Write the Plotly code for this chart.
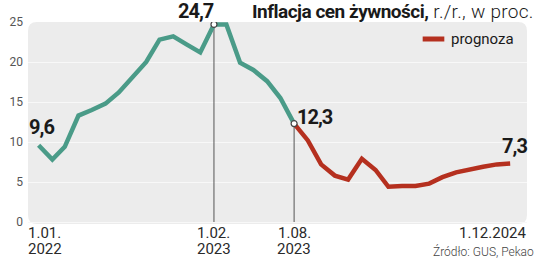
import plotly.graph_objects as go

# ---- data ----
hist_months = ["2022-01-01", "2022-02-01", "2022-03-01", "2022-04-01", "2022-05-01", "2022-06-01",
               "2022-07-01", "2022-08-01", "2022-09-01", "2022-10-01", "2022-11-01", "2022-12-01",
               "2023-01-01", "2023-02-01", "2023-03-01", "2023-04-01", "2023-05-01", "2023-06-01",
               "2023-07-01", "2023-08-01"]
hist_values = [9.6, 7.8, 9.4, 13.3, 14.0, 14.8, 16.2, 18.2, 20.0, 22.8, 23.2, 22.2,
               21.2, 24.7, 24.7, 19.9, 19.0, 17.6, 15.5, 12.3]

fc_months = ["2023-08-01", "2023-09-01", "2023-10-01", "2023-11-01", "2023-12-01",
             "2024-01-01", "2024-02-01", "2024-03-01", "2024-04-01", "2024-05-01", "2024-06-01",
             "2024-07-01", "2024-08-01", "2024-09-01", "2024-10-01", "2024-11-01", "2024-12-01"]
fc_values = [12.3, 10.2, 7.2, 5.8, 5.3, 7.9, 6.5, 4.4, 4.5, 4.5, 4.8, 5.6, 6.2, 6.6, 6.9, 7.2, 7.3]

y_ticks = [0, 5, 10, 15, 20, 25]
callouts = [("2023-02-01", 24.7), ("2023-08-01", 12.3)]
x_labels = [("1.01.", "2022", "2022-01-01"), ("1.02.", "2023", "2023-02-01"),
            ("1.08.", "2023", "2023-08-01"), ("1.12.2024", "", "2024-12-01")]

GREEN = "#4a9b88"
RED = "#b5301f"
FONT = "Roboto"

fig = go.Figure()

for d, v in callouts:
    fig.add_trace(go.Scatter(x=[d, d], y=[0, v], mode="lines",
                             line=dict(color="#555555", width=1), hoverinfo="skip", showlegend=False))

fig.add_trace(go.Scatter(x=hist_months, y=hist_values, mode="lines",
                         line=dict(color=GREEN, width=4.5), showlegend=False))
fig.add_trace(go.Scatter(x=fc_months, y=fc_values, mode="lines",
                         line=dict(color=RED, width=4.5), showlegend=False))
fig.add_trace(go.Scatter(x=[c[0] for c in callouts], y=[c[1] for c in callouts], mode="markers",
                         marker=dict(color="white", size=6, line=dict(color="#444444", width=1.2)),
                         showlegend=False))

# rounded background
rx, ry = 9 / 507, 9 / 202
path = (f"M {rx},0 L {1-rx},0 Q 1,0 1,{ry} L 1,{1-ry} Q 1,1 {1-rx},1 "
        f"L {rx},1 Q 0,1 0,{1-ry} L 0,{ry} Q 0,0 {rx},0 Z")
fig.add_shape(type="path", path=path, xref="paper", yref="paper",
              fillcolor="#ececec", line=dict(width=0), layer="below")


def val(t):
    return f"<span style='letter-spacing:-1px'><b>{t}</b></span>"


val_font = dict(family=FONT, size=20, color="#1a1a1a")
fig.add_annotation(x=hist_months[0], y=hist_values[0], text=val("9,6"), showarrow=False,
                   xanchor="left", yanchor="middle", xshift=-12, yshift=18, font=val_font)
fig.add_annotation(x="2023-02-01", y=24.7, text=val("24,7"), showarrow=False,
                   xanchor="center", yanchor="middle", xshift=-18, yshift=13, font=val_font)
fig.add_annotation(x="2023-08-01", y=12.3, text=val("12,3"), showarrow=False,
                   xanchor="left", yanchor="middle", xshift=1, yshift=7, font=val_font)
fig.add_annotation(x=fc_months[-1], y=fc_values[-1], text=val("7,3"), showarrow=False,
                   xanchor="right", yanchor="middle", xshift=19, yshift=18, font=val_font)

# x labels
lab_font = dict(family=FONT, size=15, color="#2a2a2a")
for i, (l1, l2, d) in enumerate(x_labels):
    if i == 0:
        kw = dict(x=0, xref="paper", xanchor="left", xshift=-2)
    elif i == len(x_labels) - 1:
        kw = dict(x=1, xref="paper", xanchor="right", xshift=1)
    else:
        kw = dict(x=d, xref="x", xanchor="center")
    fig.add_annotation(y=0, yref="paper", yanchor="top", yshift=2, text=l1,
                       showarrow=False, font=lab_font, **kw)
    if l2:
        fig.add_annotation(y=0, yref="paper", yanchor="top", yshift=-14, text=l2,
                           showarrow=False, font=lab_font, **kw)

# title
fig.add_annotation(x=1, xref="paper", xanchor="right", y=1, yref="paper", yanchor="bottom", yshift=-3,
                   xshift=9,
                   text=("<span style='letter-spacing:-0.5px'><b>Inflacja cen żywności,</b></span>"
                         "<span style='font-weight:300;letter-spacing:0.3px'> r./r., w proc.</span>"),
                   showarrow=False, font=dict(family=FONT, size=19, color="#1a1a1a"))

# legend (manual)
fig.add_shape(type="line", xref="paper", yref="paper", x0=(421 - 20) / 507, x1=(443 - 20) / 507,
              y0=(224 - 39) / 202, y1=(224 - 39) / 202, line=dict(color=RED, width=5))
fig.add_annotation(x=(448 - 20) / 507, xref="paper", xanchor="left", y=(224 - 39) / 202, yref="paper",
                   yanchor="middle", text="prognoza", showarrow=False,
                   font=dict(family=FONT, size=15, color="#1a1a1a"))

# source
fig.add_annotation(x=1, xref="paper", xanchor="right", xshift=9, y=0, yref="paper", yanchor="top",
                   yshift=-18, text="<span style='font-weight:300'>Źródło: GUS, Pekao</span>",
                   showarrow=False, font=dict(family=FONT, size=12, color="#444444"))

fig.update_layout(
    width=536, height=258,
    margin=dict(l=20, r=9, t=22, b=34),
    paper_bgcolor="white", plot_bgcolor="rgba(0,0,0,0)",
    xaxis=dict(type="date", range=["2021-12-08", "2025-01-08"], showticklabels=False,
               showgrid=False, zeroline=False, showline=False),
    yaxis=dict(range=[-0.25, 25], tickvals=y_ticks, ticktext=[str(t) for t in y_ticks],
               showgrid=True, gridcolor="#f8f8f8", gridwidth=1, zeroline=False, showline=False,
               tickfont=dict(family=FONT, size=12, color="#555555"), ticks="", ticklabelstandoff=4),
)

fig.write_html("out.html")
